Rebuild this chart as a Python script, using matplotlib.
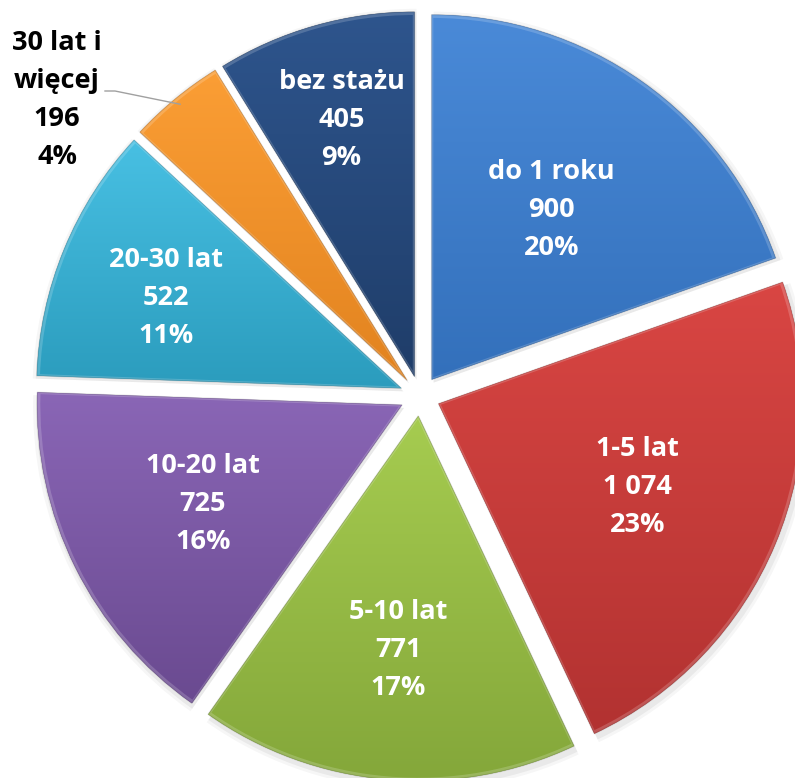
import numpy as np
import matplotlib
matplotlib.use("Agg")
import matplotlib.pyplot as plt
from matplotlib.colors import to_rgb

# ---- data ----
categories = ["do 1 roku", "1-5 lat", "5-10 lat", "10-20 lat", "20-30 lat",
              "30 lat i\nwięcej", "bez stażu"]
values = [900, 1074, 771, 725, 522, 196, 405]

# ---- style ----
top_colors = ["#4a8ad8", "#d94643", "#a6cc50", "#8a66b6", "#48c0e3", "#fb9e35", "#2e558d"]
bot_colors = ["#3370bb", "#b23231", "#84a73a", "#6a4a90", "#2b9cbd", "#e2831f", "#1f3d69"]
label_r = [0.57, 0.59, 0.645, 0.61, 0.69, None, 0.73]
label_dang = [0, 0, 0, 0, 1.5, 0, 0]  # small angular nudges (degrees)

W, H = 795, 778
fig = plt.figure(figsize=(W / 100, H / 100), dpi=100)
ax = fig.add_axes([0, 0, 1, 1])
ax.set_xlim(0, W)
ax.set_ylim(0, H)
ax.axis("off")

R = 365
C = (420, H - 396)
expl = 20  # data units (matplotlib explode is absolute)

wedges, _ = ax.pie(values, radius=R, center=C, startangle=90, counterclock=False,
                   explode=[expl] * len(values), colors=bot_colors,
                   wedgeprops=dict(linewidth=0))

# soft shadows
for w in wedges:
    for k, a in [(6, 0.035), (3, 0.05)]:
        sh = matplotlib.patches.Wedge((w.center[0] + 2, w.center[1] - 3), w.r + k,
                                      w.theta1, w.theta2, facecolor="black",
                                      alpha=a, linewidth=0, zorder=0.5)
        ax.add_patch(sh)

# vertical gradients clipped to each wedge
inv = ax.transData.inverted()
for w, tc, bc in zip(wedges, top_colors, bot_colors):
    w.set_zorder(1)
    bb = w.get_path().get_extents(w.get_transform())
    (x0, y0), (x1, y1) = inv.transform([[bb.x0, bb.y0], [bb.x1, bb.y1]])
    t = np.linspace(0, 1, 256)[:, None, None]
    img = np.array(to_rgb(bc))[None, None, :] * (1 - t) + np.array(to_rgb(tc))[None, None, :] * t
    im = ax.imshow(img, extent=[x0, x1, y0, y1], origin="lower", aspect="auto",
                   zorder=2, interpolation="bilinear")
    im.set_clip_path(w)
    edge = matplotlib.patches.Wedge(w.center, w.r - 1.5, w.theta1, w.theta2,
                                    fill=False, edgecolor=(1, 1, 1, 0.18),
                                    linewidth=2.5, zorder=3)
    ax.add_patch(edge)
    edge2 = matplotlib.patches.Wedge(w.center, w.r, w.theta1, w.theta2,
                                     fill=False, edgecolor=(0, 0, 0, 0.12),
                                     linewidth=1, zorder=3)
    ax.add_patch(edge2)

ax.set_xlim(0, W)
ax.set_ylim(0, H)
ax.set_aspect("equal")

total = sum(values)
font = ["Open Sans", "DejaVu Sans"]
fs = 19.5
ls = 1.6
for i, (w, cat, v) in enumerate(zip(wedges, categories, values)):
    pct = round(v / total * 100)
    num = f"{v:,}".replace(",", " ")
    txt = f"{cat}\n{num}\n{pct}%"
    mid = np.deg2rad((w.theta1 + w.theta2) / 2 + label_dang[i])
    if label_r[i] is None:
        ax.text(57, H - 100, txt, ha="center", va="center", fontsize=fs,
                fontweight="bold", color="black", family=font, linespacing=ls, zorder=5)
        ex = w.center[0] + 0.98 * R * np.cos(mid)
        ey = w.center[1] + 0.98 * R * np.sin(mid)
        ax.plot([105, 115, ex], [H - 91, H - 91, ey], color="#a0a0a0", lw=1, zorder=5)
    else:
        x = w.center[0] + label_r[i] * R * np.cos(mid)
        y = w.center[1] + label_r[i] * R * np.sin(mid)
        ax.text(x, y, txt, ha="center", va="center", fontsize=fs, fontweight="bold",
                color="white", family=font, linespacing=ls, zorder=5)

fig.savefig("out.png", dpi=100)
